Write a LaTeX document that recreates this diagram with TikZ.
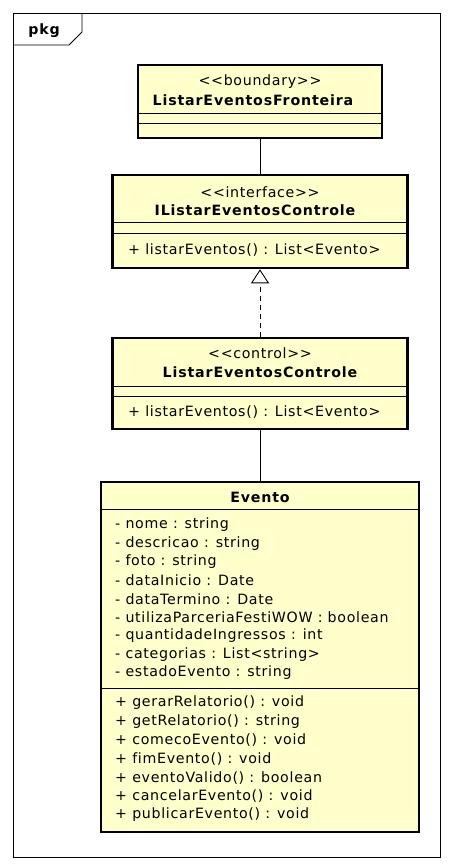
\documentclass[tikz,border=0pt]{standalone}
\usepackage{fontspec}
\setmainfont{DejaVu Sans}[Ligatures={TeXOff,CommonOff}, LetterSpace=4.8, BoldFeatures={LetterSpace=5.9}]
\usetikzlibrary{arrows.meta}
\definecolor{umlyellow}{RGB}{255,255,204}
\tikzset{
  classbox/.style={draw=black, line width=2.6pt, fill=umlyellow, inner sep=0pt},
  sepline/.style={draw=black, line width=0.9pt},
  txt/.style={inner sep=0pt, font=\fontsize{14.2}{16}\selectfont},
  bold/.style={txt, font=\fontsize{14.2}{16}\selectfont\bfseries},
  member/.style={txt, anchor=west},
  conn/.style={draw=black, line width=0.9pt},
}
\begin{document}
\begin{tikzpicture}[x=1pt,y=-1pt]
\useasboundingbox (0,0) rectangle (453,866);
% frame
\draw[line width=0.9pt] (13,13) rectangle (440,857);
\draw[line width=0.9pt] (13,45) -- (69,45) -- (82,32) -- (82,13);
\node[bold] (pkg) at (44,31) {pkg};
% box 1
\node[classbox, minimum width=244pt, minimum height=73pt] (b1) at (260,101.5) {};
\draw[sepline] (138,113) -- (382,113);
\draw[sepline] (138,123) -- (382,123);
\node[txt] (b1s) at (260,82) {<<boundary>>};
\node[bold] (b1n) at (253,100) {ListarEventosFronteira};
% box 2
\node[classbox, minimum width=295pt, minimum height=93pt] (b2) at (260,221.5) {};
\draw[sepline] (112.5,222) -- (407.5,222);
\draw[sepline] (112.5,233) -- (407.5,233);
\node[txt] (b2s) at (260,192) {<<interface>>};
\node[bold] (b2n) at (255,210) {IListarEventosControle};
\node[member] (b2m) at (128,250) {+ listarEventos() : List<Evento>};
% box 3
\node[classbox, minimum width=295pt, minimum height=91pt] (b3) at (260,383.5) {};
\draw[sepline] (112.5,386) -- (407.5,386);
\draw[sepline] (112.5,396) -- (407.5,396);
\node[txt] (b3s) at (260,353) {<<control>>};
\node[bold] (b3n) at (260,372) {ListarEventosControle};
\node[member] (b3m) at (128,412) {+ listarEventos() : List<Evento>};
% box 4
\node[classbox, minimum width=318pt, minimum height=350pt] (b4) at (260,657) {};
\draw[sepline] (101,509) -- (419,509);
\draw[sepline] (101,688) -- (419,688);
\node[bold] (b4n) at (260,497) {Evento};
\foreach \t [count=\i from 0] in {%
  - nome : string,
  - descricao : string,
  - foto : string,
  - dataInicio : Date,
  - dataTermino : Date,
  - utilizaParceriaFestiWOW : boolean,
  - quantidadeIngressos : int,
  - categorias : List<string>,
  - estadoEvento : string}
  \node[member] (a\i) at (115,525+18.5*\i) {\t};
\foreach \t [count=\i from 0] in {%
  + gerarRelatorio() : void,
  + getRelatorio() : string,
  + comecoEvento() : void,
  + fimEvento() : void,
  + eventoValido() : boolean,
  + cancelarEvento() : void,
  + publicarEvento() : void}
  \node[member] (m\i) at (115,703+18.67*\i) {\t};
% connectors
\draw[conn] (b1.south) -- (b2.north);
\draw[conn, dash pattern=on 5pt off 4pt, -{Triangle[open, length=14pt, width=18pt, line width=0.9pt, fill=white]}] (b3.north) -- (b2.south);
\draw[conn] (b3.south) -- (b4.north);
\end{tikzpicture}
\end{document}
